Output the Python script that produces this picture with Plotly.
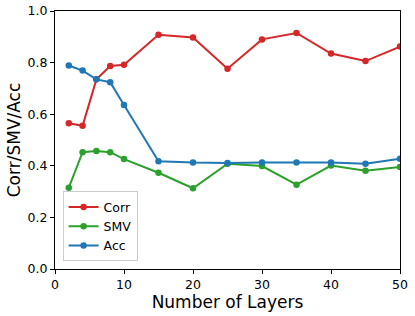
import plotly.graph_objects as go

layers = [2, 4, 6, 8, 10, 15, 20, 25, 30, 35, 40, 45, 50]
corr = [0.565, 0.555, 0.735, 0.787, 0.792, 0.908, 0.897, 0.776, 0.890, 0.915, 0.835, 0.806, 0.862]
smv = [0.315, 0.453, 0.457, 0.453, 0.426, 0.373, 0.313, 0.408, 0.399, 0.327, 0.401, 0.381, 0.395]
acc = [0.789, 0.769, 0.735, 0.724, 0.636, 0.418, 0.413, 0.411, 0.413, 0.413, 0.413, 0.408, 0.427]

series = [("Corr", corr, "#d62728"), ("SMV", smv, "#2ca02c"), ("Acc", acc, "#1f77b4")]

fig = go.Figure()
for name, vals, color in series:
    fig.add_trace(go.Scatter(
        x=layers, y=vals, name=name, mode="lines+markers",
        line=dict(color=color, width=2), marker=dict(color=color, size=6.5),
    ))

font = "DejaVu Sans, sans-serif"
axis_common = dict(
    showline=True, linecolor="black", linewidth=1, mirror=True,
    ticks="outside", ticklen=4, tickcolor="black", tickwidth=1,
    showgrid=False, zeroline=False, automargin=False,
    tickfont=dict(family=font, size=12.5, color="black"),
)
fig.update_layout(
    width=415, height=316,
    margin=dict(l=55, r=15, t=11, b=47, autoexpand=False),
    paper_bgcolor="white", plot_bgcolor="white",
    font=dict(family=font, color="black"),
    xaxis=dict(range=[0, 50], tickvals=[0, 10, 20, 30, 40, 50],
               title=dict(text="Number of Layers", font=dict(size=17, family=font), standoff=3),
               **axis_common),
    yaxis=dict(range=[0, 1], tickvals=[0, 0.2, 0.4, 0.6, 0.8, 1.0], tickformat=".1f",
               title=dict(text="Corr/SMV/Acc", font=dict(size=17, family=font), standoff=2),
               **axis_common),
    legend=dict(x=0.022, y=0.03, xanchor="left", yanchor="bottom",
                bgcolor="rgba(255,255,255,0.8)", bordercolor="#cccccc", borderwidth=1,
                font=dict(size=12.5, family=font), tracegroupgap=0, itemwidth=30),
    showlegend=True,
)
fig.write_html("out.html", config={"displayModeBar": False},
               post_script="document.body.style.margin='0';")
